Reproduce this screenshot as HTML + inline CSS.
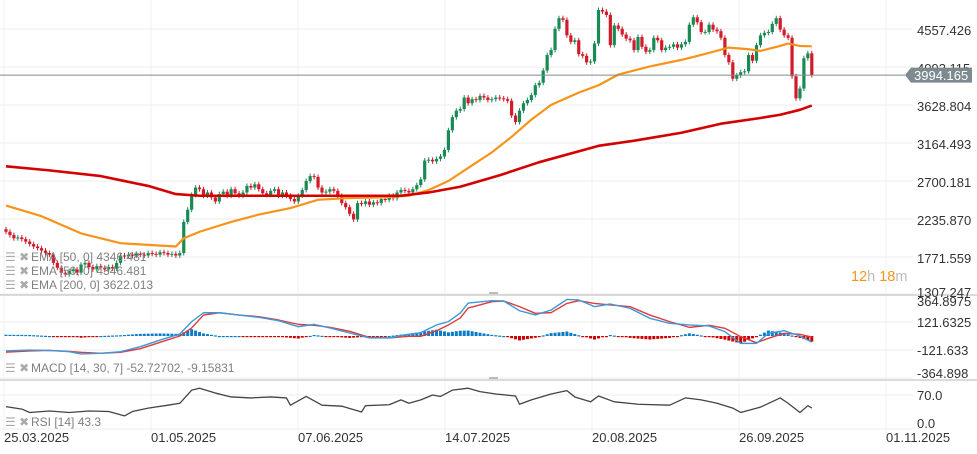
<!DOCTYPE html>
<html><head><meta charset="utf-8"><style>
html,body{margin:0;padding:0;background:#fff;}
svg{display:block;font-family:"Liberation Sans",sans-serif;}
</style></head><body>
<svg id="chart" width="977" height="454" viewBox="0 0 977 454" xmlns="http://www.w3.org/2000/svg">
<g id="grid"></g>
<g id="axes"></g>
<g id="plot"></g>
<g id="legend" font-size="12" fill="#808080">
  <g><text x="5" y="261" fill="#aaa">☰ ✖</text><text x="31" y="261">EMA [50, 0] 4346.481</text></g>
  <g><text x="5" y="275" fill="#aaa">☰ ✖</text><text x="31" y="275">EMA [50, 0] 4346.481</text></g>
  <g><text x="5" y="289" fill="#aaa">☰ ✖</text><text x="31" y="289">EMA [200, 0] 3622.013</text></g>
  <g><text x="5" y="372" fill="#aaa">☰ ✖</text><text x="31" y="372">MACD [14, 30, 7] -52.72702,  -9.15831</text></g>
  <g><text x="5" y="426" fill="#aaa">☰ ✖</text><text x="31" y="426">RSI [14] 43.3</text></g>
</g>
<text x="851" y="281" font-size="14.5"><tspan fill="#f7931a">12</tspan><tspan fill="#bbb">h </tspan><tspan fill="#f7931a">18</tspan><tspan fill="#bbb">m</tspan></text>
</svg>
<script>
const closes=[2080,2040,2000,2010,1990,1960,1930,1900,1880,1850,1820,1800,1700,1640,1580,1560,1600,1620,1580,1680,1700,1650,1620,1660,1640,1620,1650,1630,1700,1790,1780,1800,1790,1810,1800,1790,1820,1810,1800,1830,1820,1800,1810,1790,1820,2200,2350,2530,2620,2600,2520,2560,2500,2450,2540,2570,2520,2600,2550,2520,2560,2640,2620,2660,2600,2550,2530,2580,2600,2520,2560,2520,2480,2450,2520,2590,2700,2760,2750,2620,2560,2570,2600,2580,2520,2430,2380,2300,2230,2430,2420,2450,2410,2440,2430,2480,2470,2520,2490,2560,2590,2580,2560,2600,2650,2720,2950,2960,2940,2970,3000,3080,3320,3480,3560,3580,3720,3650,3700,3690,3740,3720,3690,3700,3720,3710,3700,3680,3500,3420,3560,3650,3690,3750,3870,3900,4050,4240,4300,4560,4690,4670,4480,4400,4420,4250,4230,4150,4160,4380,4790,4770,4730,4360,4600,4560,4490,4440,4420,4300,4460,4340,4280,4300,4450,4420,4300,4330,4340,4370,4330,4370,4400,4610,4700,4640,4520,4520,4610,4550,4530,4450,4240,4150,3950,3990,4030,4040,4240,4170,4360,4480,4510,4520,4620,4690,4550,4480,4450,3980,3710,3830,4200,4260,3994];
const firstOpen=2110;
const ema200Days=[0,11,24,36,43,49,74,100,107,115,125,135,150,160,171,181,191,196,201,204];
const ema200Vals=[2880,2830,2760,2640,2540,2520,2520,2520,2560,2630,2770,2930,3130,3200,3290,3400,3470,3510,3570,3622];
const ema50Days=[0,9,19,29,36,43,45,49,57,64,72,79,86,95,102,107,112,117,123,128,133,138,145,150,155,163,171,176,183,188,191,196,198,201,204];
const ema50Vals=[2400,2270,2060,1940,1920,1900,2000,2080,2200,2290,2370,2470,2490,2500,2520,2590,2700,2860,3050,3240,3450,3630,3780,3870,4000,4100,4180,4240,4330,4310,4290,4350,4380,4350,4346];
const macdDays=[0,6,11,16,19,24,29,34,39,44,47,50,54,59,64,69,74,78,82,87,92,97,102,105,109,112,115,117,123,126,130,134,138,142,145,149,153,158,163,168,173,178,182,186,190,193,197,201,204];
const macdVals=[-130,-122,-125,-136,-156,-150,-136,-93,-35,17,124,202,202,182,162,133,81,101,70,26,-17,-17,15,29,96,125,199,286,307,304,220,183,226,318,313,255,278,240,154,110,96,87,38,-64,-64,23,46,0,-53];
const signalVals=[-140,-130,-125,-134,-142,-150,-142,-110,-55,0,70,182,202,182,168,139,101,93,75,41,-12,-17,-3,-3,46,96,157,243,298,304,255,197,203,283,307,283,270,255,182,125,75,93,67,-6,-58,-20,23,15,-9];
const rsiDays=[0,4,6,11,16,21,26,30,32,36,41,44,47,49,53,57,62,67,71,72,76,80,85,90,91,97,100,102,105,108,110,113,117,120,124,129,130,133,138,142,144,148,150,154,160,168,172,176,180,184,186,191,196,198,201,203,204];
const rsiVals=[46,41,34,37,34,37,36,27,36,43,49,53,80,84,74,66,64,66,64,49,67,49,47,35,48,50,60,53,60,70,67,80,84,77,72,68,51,60,72,79,66,56,68,56,51,49,64,60,53,43,34,45,64,53,34,48,43];
const priceTicks=[4557.426,4093.115,3628.804,3164.493,2700.181,2235.870,1771.559,1307.247];
const macdTicks=[364.8975,121.6325,-121.633,-364.898];
const rsiTicks=[70.0,0.0];
const dateLabels=["25.03.2025","01.05.2025","07.06.2025","14.07.2025","20.08.2025","26.09.2025","01.11.2025"];
const dateDays=[0,37,74,111,148,185,222];
const lastPrice=3994.165;

const NS="http://www.w3.org/2000/svg";
function mk(tag,attrs,parent){const e=document.createElementNS(NS,tag);for(const k in attrs)e.setAttribute(k,attrs[k]);parent.appendChild(e);return e;}
const X=d=>6+d*3.95;
const gX=d=>4+d*3.973;
const Y=v=>29+(4557.426-v)*0.08184;
const YM=v=>336-v*0.1151;
const YR=v=>429-v*0.4857;
const grid=document.getElementById('grid'),axes=document.getElementById('axes'),plot=document.getElementById('plot');
const RIGHT=913;
priceTicks.forEach((t,i)=>{
  if(i<priceTicks.length-1){const l=mk('line',{x1:0,x2:RIGHT,y1:Y(t),y2:Y(t),stroke:'#ececec','stroke-width':1},grid);
  
  }
  const tx=mk('text',{x:917,y:Math.min(Y(t)+6,297),'font-size':13,fill:'#333'},axes);tx.textContent=t.toFixed(3);
  
  
});
macdTicks.forEach(t=>{
  const yy=YM(t);
  const l=mk('line',{x1:0,x2:RIGHT,y1:yy,y2:yy,stroke:'#ececec'},grid);
  
  
  const tx=mk('text',{x:917,y:Math.min(Math.max(yy+5,306),378),'font-size':13,fill:'#333'},axes);tx.textContent=String(t);
  
  
});
rsiTicks.forEach(t=>{
  const l=mk('line',{x1:0,x2:RIGHT,y1:YR(t),y2:YR(t),stroke:'#ececec'},grid);
  
  
  const tx=mk('text',{x:917,y:YR(t)+(t===0?-1:5),'font-size':13,fill:'#333'},axes);tx.textContent=t.toFixed(1);
  
  
});
dateDays.forEach((d,i)=>{
  const l=mk('line',{x1:gX(d),x2:gX(d),y1:0,y2:433,stroke:'#f0f0f0'},grid);
  
  
  const tx=mk('text',{x:gX(d),y:442,'font-size':13,fill:'#333'},axes);tx.textContent=dateLabels[i];
  
  
});
[295,380].forEach(y=>{
  const l=mk('line',{x1:0,x2:977,y1:y,y2:y,stroke:'#cfcfcf','stroke-width':1.5},grid);
  
  
  const h=mk('rect',{x:489,y:y-3,width:9,height:2,fill:'#bbb'},grid);
  
  
});
closes.forEach((c,i)=>{
  const o=i===0?firstOpen:closes[i-1];
  const up=c>=o;const col=up?'#1a8a55':'#d11a2a';
  const hi=Math.max(o,c)+30,lo=Math.min(o,c)-30;
  const g=mk('g',{},plot);
  
  
  mk('line',{x1:X(i),x2:X(i),y1:Y(hi),y2:Y(lo),stroke:col,'stroke-width':1},g);
  const top=Y(Math.max(o,c)),bot=Y(Math.min(o,c));
  mk('rect',{x:X(i)-1.6,y:top,width:3.2,height:Math.max(bot-top,1),fill:col},g);
});
function line(days,vals,yf,col,w,name){
  const p=mk('polyline',{points:days.map((d,i)=>X(d)+','+yf(vals[i])).join(' '),fill:'none',stroke:col,'stroke-width':w,'stroke-linejoin':'round'},plot);
  
  
}
line(ema50Days,ema50Vals,Y,'#f7931a',2.2,'ema50-line');
line(ema200Days,ema200Vals,Y,'#d40000',2.6,'ema200-line');
const lp=mk('line',{x1:0,x2:905,y1:Y(lastPrice),y2:Y(lastPrice),stroke:'#7d8a8f','stroke-width':1},plot);


const ly=Y(lastPrice);
const lb=mk('path',{d:`M905 ${ly} L911 ${ly-7.5} L972 ${ly-7.5} L972 ${ly+7.5} L911 ${ly+7.5} Z`,fill:'#7d8a8f'},plot);


const lt=mk('text',{x:914,y:ly+5,'font-size':13,fill:'#fff'},plot);lt.textContent=lastPrice.toFixed(3);


function interp(days,vals,d){for(let i=0;i<days.length-1;i++){if(d<=days[i+1]){const t=(d-days[i])/(days[i+1]-days[i]);return vals[i]+t*(vals[i+1]-vals[i]);}}return vals[vals.length-1];}
for(let i=0;i<closes.length;i++){
  const h=(interp(macdDays,macdVals,i)-interp(macdDays,signalVals,i))*1.1;
  const y0=YM(0),y1=YM(h);
  const r=mk('rect',{x:X(i)-1.5,y:Math.min(y0,y1),width:3,height:Math.max(Math.abs(y1-y0),1.2),fill:h>=0?'#0a7cc7':'#cc0000'},plot);
  
  
}
line(macdDays,signalVals,YM,'#e03a3a',1.4,'macd-signal-line');
line(macdDays,macdVals,YM,'#3a9ad9',1.4,'macd-line');
line(rsiDays,rsiVals,YR,'#444',1.3,'rsi-line');
const svg=document.getElementById('chart');svg.appendChild(document.getElementById('legend'));
</script>
</body></html>
